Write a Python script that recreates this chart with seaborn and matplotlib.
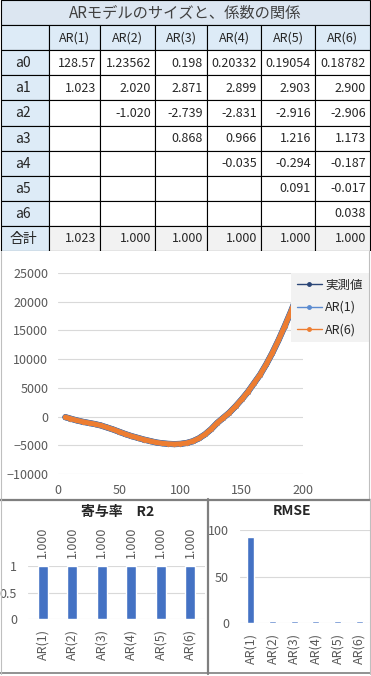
import numpy as np
import pandas as pd
import seaborn as sns
import matplotlib.pyplot as plt
from matplotlib.lines import Line2D
from matplotlib.patches import Rectangle

# --- data ---
title = "ARモデルのサイズと、係数の関係"
models = ["AR(1)", "AR(2)", "AR(3)", "AR(4)", "AR(5)", "AR(6)"]
coef_names = ["a0", "a1", "a2", "a3", "a4", "a5", "a6"]
a0 = [128.57, 1.23562, 0.198, 0.20332, 0.19054, 0.18782]
coef_ar1 = [1.023]
coef_ar2 = [2.020, -1.020]
coef_ar3 = [2.871, -2.739, 0.868]
coef_ar4 = [2.899, -2.831, 0.966, -0.035]
coef_ar5 = [2.903, -2.916, 1.216, -0.294, 0.091]
coef_ar6 = [2.900, -2.906, 1.173, -0.187, -0.017, 0.038]
totals = [1.023, 1.000, 1.000, 1.000, 1.000, 1.000]
total_label = "合計"

t = [6, 10, 15, 20, 25, 30, 35, 40, 45, 50, 55, 60, 65, 70, 75, 80, 85, 90, 95, 100,
     105, 110, 115, 120, 125, 130, 135, 140, 145, 150, 155, 160, 165, 170, 175, 180,
     185, 190, 195, 200]
measured = [-100, -350, -650, -900, -1100, -1300, -1550, -1900, -2250, -2650, -3050,
            -3400, -3700, -4000, -4250, -4500, -4650, -4750, -4800, -4750, -4600,
            -4300, -3800, -3100, -2200, -1100, -200, 700, 1800, 3000, 4300, 5800,
            7300, 9100, 11100, 13300, 15700, 18200, 20900, 23700]
ar1_pred = [-100, -350, -650, -900, -1100, -1300, -1550, -1900, -2250, -2650, -3050,
            -3400, -3700, -4000, -4250, -4500, -4650, -4750, -4800, -4750, -4600,
            -4300, -3800, -3100, -2200, -1100, -200, 700, 1800, 3000, 4300, 5800,
            7300, 9100, 11100, 13300, 15700, 18200, 20900, 23700]
ar6_pred = [-100, -350, -650, -900, -1100, -1300, -1550, -1900, -2250, -2650, -3050,
            -3400, -3700, -4000, -4250, -4500, -4650, -4750, -4800, -4750, -4600,
            -4300, -3800, -3100, -2200, -1100, -200, 700, 1800, 3000, 4300, 5800,
            7300, 9100, 11100, 13300, 15700, 18200, 20900, 23700]
series_names = ["実測値", "AR(1)", "AR(6)"]

r2 = [1.000, 1.000, 1.000, 1.000, 1.000, 1.000]
rmse = [92.7, 1.8, 1.7, 1.7, 1.7, 1.7]

# --- style ---
sns.set_theme(style="white")
plt.rcParams['font.family'] = ['Noto Sans CJK JP', 'DejaVu Sans']
grey_txt = "#595959"
grid_c = "#D9D9D9"
blue = "#4472C4"

W, H = 371, 676
fig = plt.figure(figsize=(W / 100, H / 100), dpi=100)
fig.patch.set_facecolor("white")


def px_axes(l, t_, r, b):
    return fig.add_axes([l / W, 1 - b / H, (r - l) / W, (b - t_) / H])


# --- table ---
ax_t = px_axes(0, 0, W, 251)
ax_t.set_xlim(0, W)
ax_t.set_ylim(10, 0)
ax_t.axis("off")
col_edges = [0.5, 49, 100, 155, 207, 261, 315, 370]
head_bg = "#DDEBF7"

ax_t.add_patch(Rectangle((0.5, 0), 369.5, 1, fc="#DCE6F1", ec="black", lw=0.8))
ax_t.text(185, 0.52, title, ha="center", va="center", fontsize=11, color="#404040")

coefs = [coef_ar1, coef_ar2, coef_ar3, coef_ar4, coef_ar5, coef_ar6]
for r in range(1, 10):
    for j in range(7):
        x0, x1 = col_edges[j], col_edges[j + 1]
        if r == 1 or j == 0:
            fc = head_bg
        elif r == 9:
            fc = "#F2F2F2"
        else:
            fc = "white"
        ax_t.add_patch(Rectangle((x0, r), x1 - x0, 1, fc=fc, ec="black", lw=0.8))

for j, m in enumerate(models):
    cx = (col_edges[j + 1] + col_edges[j + 2]) / 2
    ax_t.text(cx, 1.52, m, ha="center", va="center", fontsize=9, color="#262626")
for i, nm in enumerate(coef_names + [total_label]):
    ax_t.text(23, 2.52 + i, nm, ha="center", va="center", fontsize=10, color="#262626")

for j in range(6):
    xr = col_edges[j + 2] - 4
    ax_t.text(xr, 2.52, str(a0[j]), ha="right", va="center", fontsize=9, color="#262626")
    for k, v in enumerate(coefs[j]):
        ax_t.text(xr, 3.52 + k, f"{v:.3f}", ha="right", va="center", fontsize=9, color="#262626")
    ax_t.text(xr, 9.52, f"{totals[j]:.3f}", ha="right", va="center", fontsize=9, color="#262626")

# --- line chart ---
ax_l = px_axes(58, 273, 303, 474)
df = pd.DataFrame({"t": t, series_names[0]: measured,
                   series_names[1]: ar1_pred, series_names[2]: ar6_pred})
line_cols = ["#2B4677", "#5B8BD0", "#ED7D31"]
lws = [4.4, 4.0, 3.6]
mss = [3.8, 3.6, 3.4]
for name, c, lw, ms in zip(series_names, line_cols, lws, mss):
    sns.lineplot(data=df, x="t", y=name, ax=ax_l, color=c, lw=lw, marker="o",
                 markersize=ms, markeredgewidth=0, label=name)
ax_l.set_xlim(0, 200)
ax_l.set_ylim(-10000, 25000)
ax_l.set_xticks(range(0, 201, 50))
ax_l.set_yticks(range(-10000, 25001, 5000))
ax_l.yaxis.grid(True, color=grid_c, lw=0.8)
ax_l.set_axisbelow(True)
ax_l.set_xlabel("")
ax_l.set_ylabel("")
for s in ax_l.spines.values():
    s.set_visible(False)
ax_l.tick_params(length=0, labelsize=9, labelcolor=grey_txt, pad=7)
handles = [Line2D([], [], color=c, lw=1, marker="o", markersize=2.5) for c in line_cols]
leg = ax_l.legend(handles, series_names, loc="upper left",
                  bbox_to_anchor=(291 / W, 1 - 273 / H), bbox_transform=fig.transFigure,
                  frameon=True, fancybox=False, facecolor="#F2F2F2", edgecolor="none",
                  framealpha=1, fontsize=9, handlelength=2.0, handletextpad=0.3,
                  labelspacing=0.75, borderpad=0.45, borderaxespad=0)
for txt in leg.get_texts():
    txt.set_color("#262626")

# --- R2 bar chart ---
ax_r = px_axes(28, 566, 205, 619)
sns.barplot(x=models, y=r2, color=blue, width=0.34, ax=ax_r, saturation=1)
ax_r.set_ylim(0, 1)
ax_r.set_xlim(-0.5, 5.5)
ax_r.set_yticks([0, 0.5, 1])
ax_r.set_yticklabels(["0", "0.5", "1"])
ax_r.yaxis.grid(True, color=grid_c, lw=0.8)
ax_r.set_axisbelow(True)
for s in ax_r.spines.values():
    s.set_visible(False)
ax_r.tick_params(length=0, labelsize=9, labelcolor=grey_txt, pad=8)
ax_r.tick_params(axis="x", rotation=90, pad=7)
ax_r.bar_label(ax_r.containers[0], labels=[f"{v:.3f}" for v in r2], rotation=90,
               padding=6, fontsize=9, color=grey_txt, clip_on=False)
fig.text(118 / W, 1 - 512 / H, "寄与率　R2", ha="center", va="center",
         fontsize=10, fontweight="bold", color="#262626")

# --- RMSE bar chart ---
ax_m = px_axes(240, 530, 370, 623)
sns.barplot(x=models, y=rmse, color=blue, width=0.32, ax=ax_m, saturation=1)
ax_m.set_ylim(0, 100)
ax_m.set_xlim(-0.5, 5.5)
ax_m.set_yticks([0, 50, 100])
ax_m.yaxis.grid(True, color=grid_c, lw=0.8)
ax_m.set_axisbelow(True)
for s in ax_m.spines.values():
    s.set_visible(False)
ax_m.tick_params(length=0, labelsize=9, labelcolor=grey_txt, pad=8)
ax_m.tick_params(axis="x", rotation=90, pad=7)
fig.text(292 / W, 1 - 511 / H, "RMSE", ha="center", va="center",
         fontsize=10, fontweight="bold", color="#262626")

# --- chart frames ---
def hline(y, x0, x1, c, lw):
    fig.add_artist(Line2D([x0 / W, x1 / W], [1 - y / H, 1 - y / H], color=c, lw=lw))


def vline(x, y0, y1, c, lw):
    fig.add_artist(Line2D([x / W, x / W], [1 - y0 / H, 1 - y1 / H], color=c, lw=lw))


vline(1, 251, 499, "#BFBFBF", 0.8)
vline(369, 251, 499, "#BFBFBF", 0.8)
hline(499.5, 0, W, "#7F7F7F", 1.6)
vline(207.5, 499, 674, "#7F7F7F", 1.6)
hline(673, 0, W, "#7F7F7F", 1.2)
vline(1, 499, 674, "#BFBFBF", 0.8)
vline(369.5, 499, 674, "#BFBFBF", 0.8)

fig.savefig("out.png", dpi=100)
